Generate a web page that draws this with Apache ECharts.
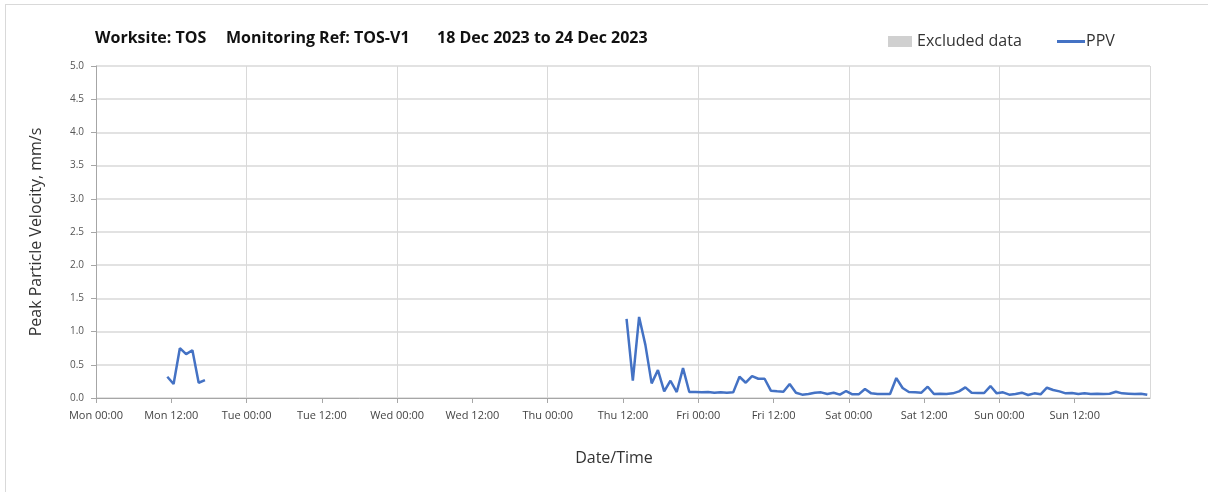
<!DOCTYPE html>
<html>
<head>
<meta charset="utf-8">
<script src="https://cdn.jsdelivr.net/npm/echarts@6/dist/echarts.min.js"></script>
<style>
html,body{margin:0;padding:0;background:#fff;}
#wrap{position:relative;width:1208px;height:492px;overflow:hidden;}
#frame{position:absolute;left:5px;top:4px;width:1300px;height:600px;border-left:1px solid #d9d9d9;border-top:1px solid #d9d9d9;}
#chart{position:absolute;left:0;top:0;width:1208px;height:492px;}
</style>
</head>
<body>
<div id="wrap"><div id="frame"></div><div id="chart"></div></div>
<script>
// ---- data ----
const titleParts = ['Worksite: TOS', 'Monitoring Ref: TOS-V1', '18 Dec 2023 to 24 Dec 2023'];
// x axis: hours since Mon 18 Dec 2023 00:00
const xMinHours = 0;
const xMaxHours = 168;
const yTicks = [0, 0.5, 1.0, 1.5, 2.0, 2.5, 3.0, 3.5, 4.0, 4.5, 5.0];
const dayNames = ['Mon', 'Tue', 'Wed', 'Thu', 'Fri', 'Sat', 'Sun', 'Mon'];
// segment 1: hourly readings starting Mon 11:22
const seg1StartHours = 11 + 22 / 60;
const seg1Values = [0.32, 0.21, 0.75, 0.66, 0.72, 0.23, 0.27];
// segment 2: hourly readings starting Thu 12:34
const seg2StartHours = 3 * 24 + 12 + 34 / 60;
const seg2Thu = [1.19, 0.26, 1.22, 0.80, 0.22, 0.42, 0.10, 0.26, 0.09, 0.45, 0.09, 0.09];
const seg2Fri = [0.085, 0.09, 0.08, 0.085, 0.08, 0.085, 0.32, 0.23, 0.33, 0.29, 0.29, 0.11,
                 0.10, 0.095, 0.21, 0.08, 0.05, 0.06, 0.08, 0.085, 0.06, 0.08, 0.05, 0.105];
const seg2Sat = [0.055, 0.055, 0.135, 0.07, 0.06, 0.06, 0.06, 0.30, 0.15, 0.09, 0.085, 0.08,
                 0.17, 0.06, 0.065, 0.06, 0.07, 0.10, 0.16, 0.08, 0.075, 0.075, 0.18, 0.07];
const seg2Sun = [0.085, 0.05, 0.06, 0.08, 0.045, 0.07, 0.055, 0.155, 0.12, 0.10, 0.07, 0.075,
                 0.06, 0.07, 0.06, 0.065, 0.06, 0.065, 0.095, 0.07, 0.065, 0.06, 0.065, 0.05];
const excludedData = [];

// ---- build ----
function hourly(start, values) {
  return values.map((v, i) => [start + i, v]);
}
const seg2Values = seg2Thu.concat(seg2Fri, seg2Sat, seg2Sun);
const s1 = hourly(seg1StartHours, seg1Values);
const s2 = hourly(seg2StartHours, seg2Values);
const ppv = s1.concat([[s1[s1.length - 1][0] + 1, null]], s2);

const pad = n => (n < 10 ? '0' : '') + n;
const FONT = '"Open Sans", sans-serif';

const chart = echarts.init(document.getElementById('chart'), null, {renderer: 'canvas'});
chart.setOption({
  animation: false,
  backgroundColor: 'transparent',
  title: [
    {text: titleParts[0], left: 95, top: 29},
    {text: titleParts[1], left: 226, top: 29},
    {text: titleParts[2], left: 437, top: 29}
  ].map(t => Object.assign(t, {padding: 0, textStyle: {fontFamily: FONT, fontSize: 16, fontWeight: 'bold', color: '#111', lineHeight: 18}})),
  legend: [
    {data: [{name: 'Excluded data', icon: 'rect'}], left: 888, top: 33, padding: 0, itemWidth: 24, itemHeight: 11,
     textStyle: {fontFamily: FONT, fontSize: 16, color: '#333', lineHeight: 17}},
    {data: [{name: 'PPV', icon: 'rect'}], left: 1057, top: 33, padding: 0, itemWidth: 28, itemHeight: 3,
     textStyle: {fontFamily: FONT, fontSize: 16, color: '#333', lineHeight: 17, padding: [0, 0, 0, -4]}}
  ],
  grid: {left: 96, top: 66, right: 58, bottom: 94},
  xAxis: [{
    type: 'value', min: xMinHours, max: xMaxHours, interval: 12,
    name: 'Date/Time', nameLocation: 'middle', nameGap: 52,
    nameTextStyle: {fontFamily: FONT, fontSize: 16, color: '#333', padding: [0, 18, 0, 0]},
    axisLine: {show: true, onZero: false, lineStyle: {color: '#a6a6a6', width: 1}},
    axisTick: {show: true, length: 5, lineStyle: {color: '#a6a6a6'}},
    splitLine: {show: false},
    axisLabel: {
      fontFamily: FONT, fontSize: 11, color: '#444', margin: 12, showMaxLabel: false, hideOverlap: false,
      formatter: v => dayNames[Math.floor(v / 24)] + ' ' + pad(v % 24) + ':00'
    }
  }, {
    type: 'value', min: xMinHours, max: xMaxHours, interval: 24, position: 'bottom',
    axisLine: {show: false}, axisTick: {show: false}, axisLabel: {show: false},
    splitLine: {show: true, lineStyle: {color: '#d9d9d9', width: 1}}
  }],
  yAxis: {
    type: 'value', min: 0, max: 5, interval: 0.5,
    name: 'Peak Particle Velocity, mm/s', nameLocation: 'middle', nameGap: 52,
    nameTextStyle: {fontFamily: FONT, fontSize: 16, color: '#333'},
    axisLine: {show: true, lineStyle: {color: '#a6a6a6', width: 1}},
    axisTick: {show: true, length: 5, inside: false, lineStyle: {color: '#a6a6a6'}},
    splitLine: {show: true, lineStyle: {color: '#d9d9d9', width: 1.5}},
    axisLabel: {fontFamily: FONT, fontSize: 10, color: '#555', margin: 12,
      formatter: v => yTicks.includes(+v.toFixed(1)) ? v.toFixed(1) : ''}
  },
  series: [
    {name: 'Excluded data', type: 'line', data: excludedData, symbol: 'none',
     itemStyle: {color: '#d0d0d0'}, lineStyle: {color: '#d0d0d0'}},
    {name: 'PPV', type: 'line', data: ppv, symbol: 'none', showSymbol: false, connectNulls: false,
     lineStyle: {color: '#4472c4', width: 2.5}, itemStyle: {color: '#4472c4'}}
  ]
});
</script>
</body>
</html>
